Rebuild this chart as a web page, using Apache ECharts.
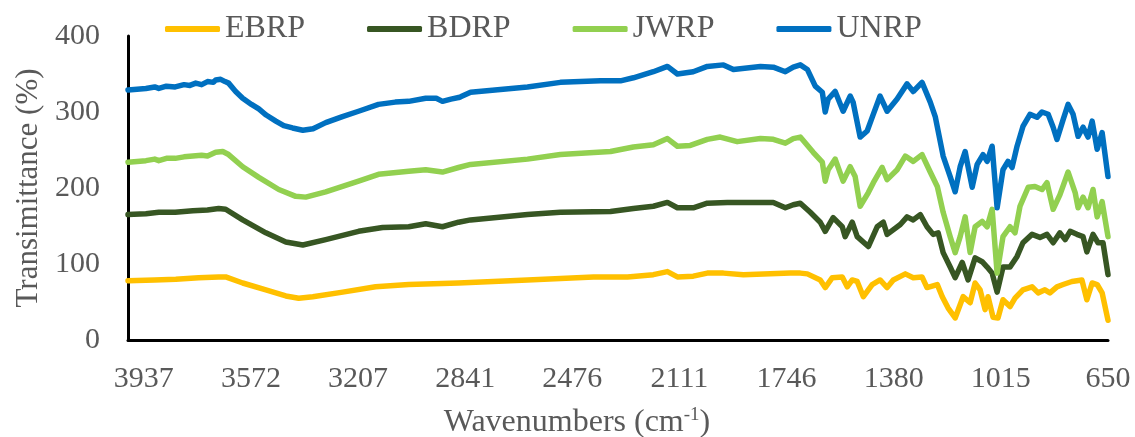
<!DOCTYPE html>
<html>
<head>
<meta charset="utf-8">
<script src="https://cdn.jsdelivr.net/npm/echarts@6.0.0/dist/echarts.min.js"></script>
<style>
  html, body { margin: 0; padding: 0; background: #fff; }
  #chart { width: 1135px; height: 437px; }
</style>
</head>
<body>
<div id="chart"></div>
<script>
// wavenumber (cm-1), transmittance (%)
var ebrp = [[3991,78],[3900,79],[3828,80],[3750,82],[3682,83],[3658,83],[3600,75],[3521,66],[3453,58],[3409,55],[3361,57],[3259,63],[3147,70],[3034,73],[2864,75],[2629,79],[2404,83],[2288,83],[2200,86],[2152,90],[2118,83],[2064,84],[2016,88],[1961,88],[1893,86],[1733,88],[1699,88],[1675,87],[1631,79],[1614,69],[1590,82],[1556,83],[1539,70],[1522,79],[1505,77],[1484,57],[1454,73],[1427,79],[1403,69],[1382,79],[1341,87],[1314,82],[1284,83],[1267,69],[1232,73],[1215,57],[1195,42],[1171,29],[1144,57],[1120,49],[1103,75],[1086,66],[1069,40],[1059,57],[1042,30],[1025,29],[1008,53],[984,44],[967,55],[940,66],[909,70],[888,62],[865,66],[848,62],[824,70],[803,73],[773,77],[739,79],[722,53],[704,75],[687,73],[670,62],[650,26]];

var bdrp = [[3991,165],[3930,166],[3886,168],[3830,168],[3770,170],[3720,171],[3682,173],[3658,172],[3600,158],[3521,141],[3453,129],[3395,125],[3317,132],[3205,143],[3123,148],[3034,149],[2976,153],[2919,149],[2864,155],[2823,158],[2629,165],[2517,168],[2346,169],[2268,173],[2200,176],[2152,181],[2118,174],[2064,174],[2016,180],[1948,181],[1791,181],[1750,174],[1723,178],[1699,180],[1665,168],[1631,155],[1614,143],[1587,161],[1556,149],[1546,136],[1522,155],[1505,136],[1467,123],[1437,149],[1416,155],[1403,139],[1358,152],[1335,162],[1314,158],[1290,165],[1267,149],[1246,139],[1229,141],[1212,115],[1188,96],[1171,82],[1147,102],[1127,79],[1103,108],[1079,103],[1062,96],[1045,88],[1028,63],[1008,96],[984,96],[960,110],[940,128],[909,139],[882,135],[858,139],[837,128],[814,141],[796,132],[779,143],[756,139],[735,136],[722,116],[701,139],[684,128],[667,128],[650,86]];

var jwrp = [[3991,234],[3960,235],[3930,236],[3900,238],[3886,236],[3860,239],[3830,239],[3800,241],[3770,242],[3740,243],[3720,242],[3692,247],[3668,248],[3648,244],[3600,228],[3545,214],[3477,198],[3419,189],[3385,188],[3317,195],[3205,209],[3137,218],[3034,222],[2976,224],[2919,221],[2864,227],[2823,231],[2629,238],[2517,244],[2346,248],[2268,254],[2200,257],[2152,265],[2118,255],[2074,256],[2016,264],[1972,267],[1914,261],[1835,265],[1791,264],[1750,259],[1723,265],[1699,267],[1655,247],[1624,234],[1614,209],[1604,224],[1580,238],[1553,209],[1529,228],[1512,215],[1495,176],[1467,194],[1450,207],[1420,227],[1403,211],[1369,224],[1341,242],[1314,235],[1284,244],[1256,221],[1232,202],[1212,168],[1188,136],[1171,115],[1154,136],[1137,162],[1120,115],[1103,149],[1079,156],[1062,149],[1045,172],[1028,88],[1008,136],[984,149],[967,141],[950,176],[922,201],[899,202],[875,198],[858,207],[837,172],[814,191],[786,221],[762,194],[752,174],[735,188],[718,174],[701,198],[687,162],[670,182],[650,136]];

var unrp = [[3991,329],[3960,330],[3930,331],[3900,333],[3886,331],[3860,334],[3830,333],[3800,336],[3780,335],[3760,338],[3740,336],[3720,340],[3700,339],[3692,342],[3675,343],[3660,340],[3648,338],[3624,327],[3600,318],[3570,310],[3545,304],[3520,296],[3487,288],[3460,282],[3430,279],[3395,276],[3360,278],[3317,286],[3260,294],[3205,301],[3137,310],[3080,313],[3034,314],[2976,318],[2940,318],[2919,314],[2890,317],[2864,319],[2857,320],[2823,326],[2629,333],[2517,339],[2380,341],[2312,341],[2268,345],[2200,353],[2152,360],[2118,350],[2064,353],[2016,360],[1961,362],[1927,356],[1835,360],[1791,359],[1750,353],[1723,359],[1699,362],[1675,356],[1648,334],[1624,326],[1614,300],[1604,317],[1580,327],[1553,301],[1529,321],[1519,313],[1495,267],[1471,275],[1454,293],[1427,321],[1403,301],[1369,317],[1335,337],[1314,327],[1284,339],[1256,313],[1239,294],[1212,242],[1188,215],[1171,195],[1154,228],[1137,248],[1127,228],[1113,201],[1096,231],[1076,244],[1062,235],[1045,255],[1028,174],[1008,224],[991,235],[977,227],[960,255],[940,281],[916,297],[892,293],[875,300],[854,297],[837,280],[824,264],[803,290],[786,310],[769,297],[752,268],[735,280],[718,267],[704,288],[687,251],[670,273],[650,215]];

var seriesNames = ['EBRP', 'BDRP', 'JWRP', 'UNRP'];
var seriesColors = ['#FFC000', '#375623', '#92D050', '#0070C0'];
var seriesData = [ebrp, bdrp, jwrp, unrp];

var xMin = 650, xMax = 3991, xStep = (3937 - 650) / 9;
var yMin = 0, yMax = 400, yStep = 100;

var font = "'Liberation Serif', 'Times New Roman', serif";
var textColor = '#595959';

var chart = echarts.init(document.getElementById('chart'));

var series = seriesNames.map(function (name, i) {
  return {
    name: name,
    type: 'line',
    data: seriesData[i],
    symbol: 'none',
    color: seriesColors[i],
    lineStyle: { width: 5.5, cap: 'round', join: 'round' },
    z: 2 + i
  };
});

var option = {
  animation: false,
  backgroundColor: '#fff',
  textStyle: { fontFamily: font },
  grid: { left: 128, right: 27, top: 36, bottom: 97, containLabel: false, outerBoundsMode: 'none' },
  legend: {
    data: seriesNames,
    left: 165,
    top: 13,
    padding: 0,
    icon: 'roundRect',
    itemGap: 62,
    itemWidth: 55,
    itemHeight: 6,
    textStyle: { fontFamily: font, fontSize: 32, color: textColor }
  },
  xAxis: {
    type: 'value',
    inverse: true,
    min: xMin,
    max: xMax,
    interval: xStep,
    name: '{a|Wavenumbers (cm}{s|-1}{a|)}',
    nameLocation: 'middle',
    nameGap: 66,
    nameTextStyle: {
      padding: [0, 82, 0, 0],
      rich: {
        a: { fontFamily: font, fontSize: 32, color: textColor },
        s: { fontFamily: font, fontSize: 19, color: textColor, verticalAlign: 'top', padding: [0, 0, 14, 0] }
      }
    },
    axisLine: { lineStyle: { color: '#000', width: 3 } },
    axisTick: { show: false },
    splitLine: { show: false },
    axisLabel: {
      fontFamily: font,
      fontSize: 30,
      color: textColor,
      margin: 24,
      hideOverlap: false,
      formatter: function (v) {
        if (v > 3940) return '';
        return String(Math.round(v));
      }
    }
  },
  yAxis: {
    type: 'value',
    min: yMin,
    max: yMax,
    interval: yStep,
    name: 'Transimittance (%)',
    nameLocation: 'middle',
    nameGap: 83,
    nameTextStyle: { fontFamily: font, fontSize: 31, color: textColor },
    axisLine: { show: true, lineStyle: { color: '#000', width: 3 } },
    axisTick: { show: false },
    splitLine: { show: false },
    axisLabel: { fontFamily: font, fontSize: 30, color: textColor, margin: 28 }
  },
  series: series
};

chart.setOption(option);
</script>
</body>
</html>
